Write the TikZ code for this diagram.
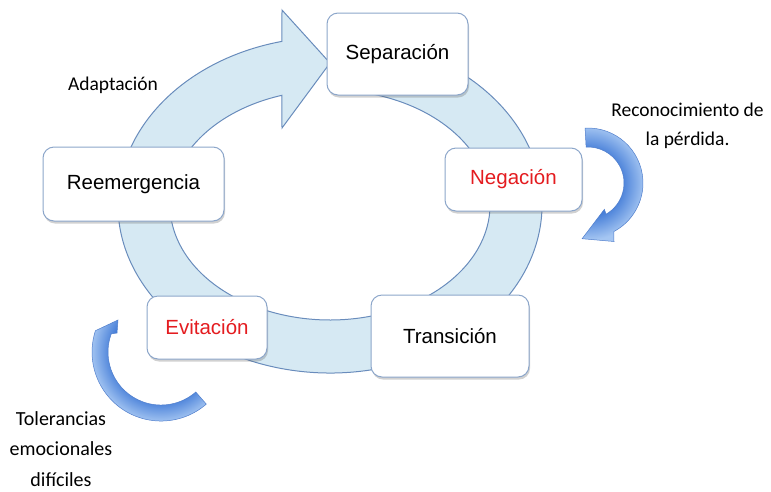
\documentclass[tikz,border=0pt]{standalone}
\usepackage{fontspec}
\setmainfont{Liberation Sans}
\newfontfamily\lblfont{Carlito}
\usetikzlibrary{shadows}
\definecolor{ringfill}{RGB}{214,233,243}
\definecolor{ringdraw}{RGB}{105,140,188}
\definecolor{boxdraw}{RGB}{140,166,202}
\definecolor{redtxt}{RGB}{228,28,32}
\definecolor{arrdk}{RGB}{70,126,216}
\definecolor{arrlt}{RGB}{165,198,242}
\definecolor{arrdraw}{RGB}{80,126,204}
\pgfdeclareradialshading{shadeR}{\pgfpoint{0bp}{0bp}}{color(0bp)=(arrdk); color(11bp)=(arrdk); color(19bp)=(arrlt); color(50bp)=(arrlt)}
\pgfdeclareradialshading{shadeL}{\pgfpoint{0bp}{0bp}}{color(0bp)=(arrdk); color(16.5bp)=(arrdk); color(23.5bp)=(arrlt); color(50bp)=(arrlt)}
\begin{document}
\begin{tikzpicture}[x=1pt,y=-1pt,
  stage/.style={draw=boxdraw, line width=1pt, fill=white, rounded corners=11pt, inner sep=0pt,
    font=\fontsize{20.5}{24}\selectfont,
    drop shadow={shadow xshift=1pt, shadow yshift=-2.5pt, opacity=0.3, fill=black!60}},
  lbl/.style={align=center, inner sep=0pt},
  ring/.style={fill=ringfill, draw=ringdraw, line width=1pt},
  bluearrow/.style={draw=arrdraw, line width=0.5pt}]
\useasboundingbox (0,0) rectangle (771,491);

% main cycle band with arrow head
\path[ring] (374.08,40.67) arc[start angle=-78, end angle=256.9, x radius=212, y radius=168]
  -- (282,10) -- (330,63) -- (282,128) -- (281.9,95.3)
  arc[start angle=252.5, end angle=-78, x radius=160, y radius=115] -- cycle;

% right curved arrow
\begin{scope}
\clip (585.1,128.1) arc[start angle=-93, end angle=62, radius=55] -- (614,241.5) -- (582.1,238.7) -- (604.4,209.3) -- (606,214.2) arc[start angle=60, end angle=-93, radius=36] -- cycle;
\shade[shading=shadeR] (588,183) circle[radius=75];
\end{scope}
\path[bluearrow] (585.1,128.1) arc[start angle=-93, end angle=62, radius=55] -- (614,241.5) -- (582.1,238.7) -- (604.4,209.3) -- (606,214.2) arc[start angle=60, end angle=-93, radius=36] -- cycle;

% left curved arrow
\begin{scope}
\clip (206.3,404.1) arc[start angle=49, end angle=198, radius=69] -- (118,320) -- (117,333) -- (111.2,333.9) arc[start angle=200, end angle=49, radius=53] -- cycle;
\shade[shading=shadeL] (161,352) circle[radius=75];
\end{scope}
\path[bluearrow] (206.3,404.1) arc[start angle=49, end angle=198, radius=69] -- (118,320) -- (117,333) -- (111.2,333.9) arc[start angle=200, end angle=49, radius=53] -- cycle;

% stage boxes
\node[stage, minimum width=141pt, minimum height=82pt] (sep) at (397.5,54) {Separación};
\node[stage, minimum width=137pt, minimum height=63pt, text=redtxt] (neg) at (513.5,179.5) {Negación};
\node[stage, minimum width=181pt, minimum height=74pt] (reem) at (133.5,184) {Reemergencia};
\node[stage, minimum width=120pt, minimum height=63pt, text=redtxt] (evit) at (207,327.5) {Evitación};
\node[stage, minimum width=158pt, minimum height=82pt] (trans) at (450,336) {Transición};

% labels
\node[lbl, font=\lblfont\fontsize{19.5}{24}\selectfont] (adapt) at (113,85) {Adaptación};
\node[lbl, font=\lblfont\fontsize{19.5}{28.5}\selectfont] (recon) at (687.5,126) {Reconocimiento de\\la pérdida.};
\node[lbl, font=\lblfont\fontsize{20}{30.5}\selectfont] (toler) at (61,449) {Tolerancias\\emocionales\\difíciles};
\end{tikzpicture}
\end{document}
